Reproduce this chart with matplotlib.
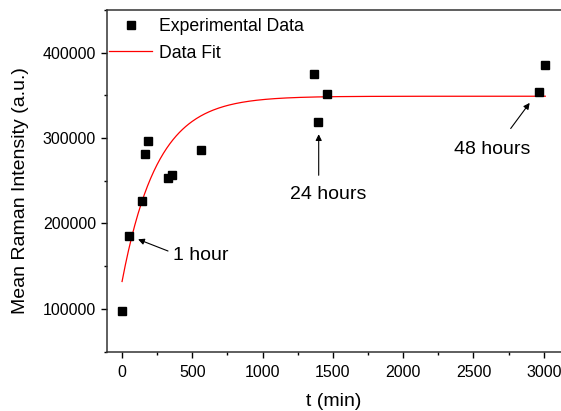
import numpy as np
import matplotlib
matplotlib.use("Agg")
import matplotlib.pyplot as plt
from matplotlib.ticker import MultipleLocator

plt.rcParams['font.family'] = ['Liberation Sans', 'DejaVu Sans']

# Experimental data (t in min, mean Raman intensity in a.u.)
t_exp = [0, 50, 140, 164, 188, 330, 353, 562, 1368, 1394, 1456, 2966, 3011]
i_exp = [97000, 185000, 226800, 281400, 297100, 253700, 256400, 286100,
         374500, 318900, 351400, 353400, 385300]

# Exponential fit parameters: I = I_inf - (I_inf - I_0) * exp(-t / tau)
fit_I0 = 132000
fit_Iinf = 349000
fit_tau = 250
fit_tmax = 3011

xticks = [0, 500, 1000, 1500, 2000, 2500, 3000]
yticks = [100000, 200000, 300000, 400000]

W, H = 561, 411
fig = plt.figure(figsize=(W / 100, H / 100), dpi=100)
left, right, bottom, top = 107.3, 560.6, 351.5, 10.0
ax = fig.add_axes([left / W, 1 - bottom / H, (right - left) / W, (bottom - top) / H])

t_fit = np.linspace(0, fit_tmax, 400)
i_fit = fit_Iinf - (fit_Iinf - fit_I0) * np.exp(-t_fit / fit_tau)

ax.plot(t_exp, i_exp, linestyle='none', marker='s', markersize=5.2,
        color='black', label='Experimental Data', zorder=3)
ax.plot(t_fit, i_fit, color='#ff0000', lw=0.9, label='Data Fit', zorder=2)

ax.set_xlim(-105, 3120)
ax.set_ylim(50000, 450000)
ax.set_xticks(xticks)
ax.set_yticks(yticks)
ax.xaxis.set_minor_locator(MultipleLocator(250))
ax.yaxis.set_minor_locator(MultipleLocator(50000))
ax.tick_params(which='major', direction='out', length=4.5, width=1, labelsize=11.5)
ax.tick_params(axis='x', which='major', pad=5.5)
ax.tick_params(which='minor', direction='out', length=2.5, width=1)
for s in ax.spines.values():
    s.set_linewidth(1.1)
    s.set_color('#333333')
ax.spines['right'].set_visible(False)

ax.set_xlabel('t (min)', fontsize=14, labelpad=9)
ax.set_ylabel('Mean Raman Intensity (a.u.)', fontsize=14)
ax.yaxis.set_label_coords(-0.172, 0.47)

arrow = dict(arrowstyle='-|>', color='black', lw=0.8, mutation_scale=9,
             shrinkA=0, shrinkB=0)
ax.annotate('', xy=(114, 181400), xytext=(327, 167700), arrowprops=arrow)
ax.text(363, 162700, '1 hour', fontsize=14, ha='left', va='center')
ax.annotate('', xy=(1399, 304500), xytext=(1399, 256400), arrowprops=arrow)
ax.text(1464, 234000, '24 hours', fontsize=14, ha='center', va='center')
ax.annotate('', xy=(2900, 341200), xytext=(2765, 311200), arrowprops=arrow)
ax.text(2633, 286700, '48 hours', fontsize=14, ha='center', va='center')

ax.legend(loc='upper left', bbox_to_anchor=(0.004, 0.977), frameon=False,
          fontsize=12.7, handlelength=2.45, handletextpad=0.4,
          labelspacing=0.55, borderpad=0, borderaxespad=0)

fig.savefig('out.png', dpi=100)
